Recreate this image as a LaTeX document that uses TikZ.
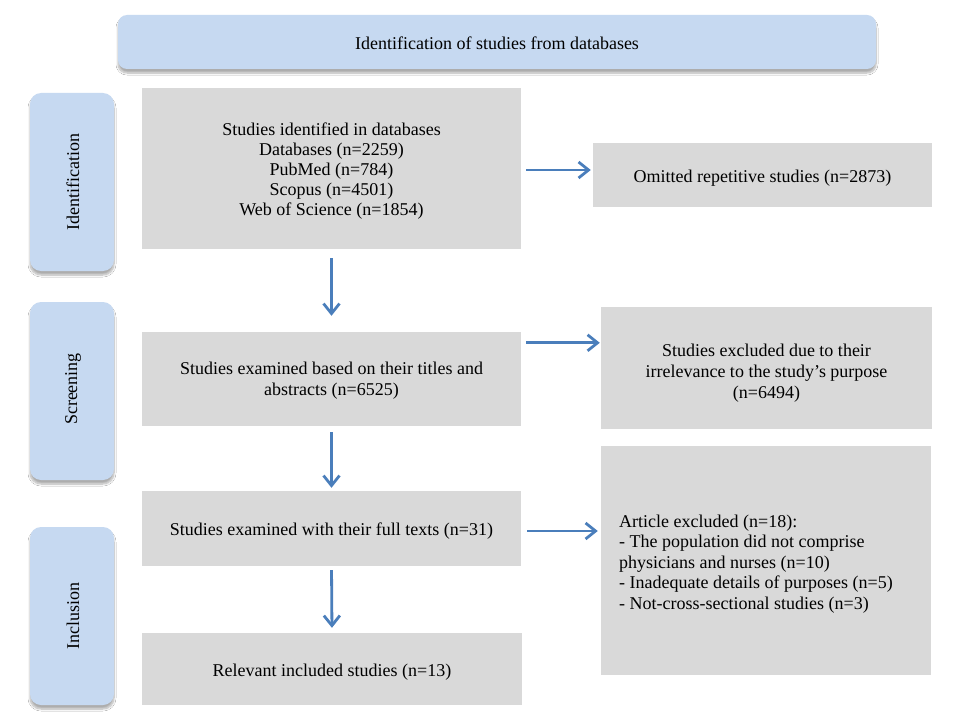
\documentclass[tikz,border=0pt]{standalone}
\usepackage{fontspec}
\setmainfont{Liberation Serif}
\usetikzlibrary{shadows.blur,arrows.meta}
\definecolor{phaseblue}{HTML}{C6D9F1}
\definecolor{boxgrey}{HTML}{D9D9D9}
\definecolor{arrowblue}{HTML}{4A7EBB}
\begin{document}
\begin{tikzpicture}[x=1pt,y=-1pt,
  txt/.style={font=\fontsize{18}{20}\selectfont, text=black, inner sep=0pt, align=center},
  phase/.style={fill=phaseblue, draw=none, rounded corners=11pt, inner sep=0pt,
    blur shadow={shadow xshift=0pt, shadow yshift=-4pt, shadow blur radius=2pt, shadow blur steps=8, shadow opacity=32}},
  greybox/.style={fill=boxgrey, draw=none, inner sep=0pt},
  flow/.style={draw=arrowblue, line width=2.8pt, -{Straight Barb[length=10pt,width=16pt,line width=2.8pt]}}]
\useasboundingbox (0,0) rectangle (954,725);
\fill[white] (0,0) rectangle (954,725);

% banner
\node[phase, minimum width=758pt, minimum height=54pt, rounded corners=9pt] (top) at (497,42) {};
\node[txt] (topt) at ([yshift=-1pt]top.center) {Identification of studies from databases};

% phase boxes
\node[phase, minimum width=84pt, minimum height=178pt] (pid) at (72,182) {};
\node[txt] (pidt) at ([xshift=1pt]pid.center) {\rotatebox{90}{Identification}};
\node[phase, minimum width=84pt, minimum height=178pt] (psc) at (72,391) {};
\node[txt] (psct) at ([xshift=1pt,yshift=2pt]psc.center) {\rotatebox{90}{Screening}};
\node[phase, minimum width=84pt, minimum height=178pt] (pin) at (72,616) {};
\node[txt] (pint) at ([xshift=1pt]pin.center) {\rotatebox{90}{Inclusion}};

% main boxes
\node[greybox, minimum width=379pt, minimum height=161pt] (b1) at (331.5,168.5) {};
\node[txt] (b1t) at ([yshift=-2.5pt]b1.center)
  {Studies identified in databases\\Databases (n=2259)\\PubMed (n=784)\\Scopus (n=4501)\\Web of Science (n=1854)};
\node[greybox, minimum width=339pt, minimum height=64pt] (om) at (762.5,175) {};
\node[txt] (omt) at ([yshift=-3pt]om.center) {Omitted repetitive studies (n=2873)};
\node[greybox, minimum width=379pt, minimum height=94pt] (b2) at (331.5,379) {};
\node[txt, font=\fontsize{18}{21}\selectfont] (b2t) at ([yshift=-2pt]b2.center)
  {Studies examined based on their titles and\\abstracts (n=6525)};
\node[greybox, minimum width=331pt, minimum height=122pt] (ex) at (766.5,368) {};
\node[txt, font=\fontsize{18}{21}\selectfont] (ext) at ([yshift=-5pt]ex.center)
  {Studies excluded due to their\\irrelevance to the study's purpose\\(n=6494)};
\node[greybox, minimum width=379pt, minimum height=75pt] (b3) at (331.5,528.5) {};
\node[txt] (b3t) at ([yshift=-3pt]b3.center) {Studies examined with their full texts (n=31)};
\node[greybox, minimum width=380pt, minimum height=72pt] (b4) at (332,669) {};
\node[txt] (b4t) at ([yshift=-3pt]b4.center) {Relevant included studies (n=13)};
\node[greybox, minimum width=330pt, minimum height=229pt] (ax) at (766,560.5) {};
\node[txt, anchor=west, align=left, font=\fontsize{18}{20.5}\selectfont] (axt) at (619,564)
  {Article excluded (n=18):\\- The population did not comprise\\physicians and nurses (n=10)\\- Inadequate details of purposes (n=5)\\- Not-cross-sectional studies (n=3)};

% arrows
\draw[flow, shorten <=9pt, shorten >=16pt] (b1.south) -- (b2.north);
\draw[flow, shorten <=6pt, shorten >=3pt] (b2.south) -- (b3.north);
\draw[flow, shorten <=4pt, shorten >=5pt] (b3.south) -- (b4.north);
\draw[flow, shorten <=5pt, shorten >=2pt] ([yshift=-1.5pt]b1.east) -- ([yshift=-1.5pt]b1.east -| om.west);
\draw[flow, shorten <=5pt, shorten >=1pt] ([yshift=-11pt]b2.north east) -- ([yshift=-11pt]b2.north east -| ex.west);
\draw[flow, shorten <=6pt, shorten >=3pt] ([yshift=-2.5pt]b3.east) -- ([yshift=-2.5pt]b3.east -| ax.west);
\end{tikzpicture}
\end{document}
